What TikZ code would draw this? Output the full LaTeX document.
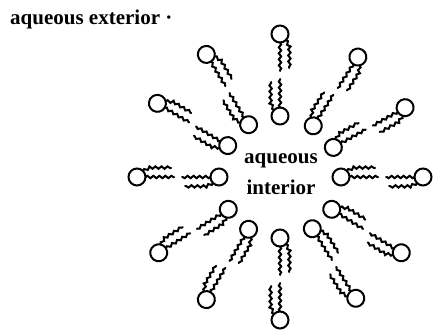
\documentclass[tikz,border=0pt]{standalone}
\usepackage{fontspec}
\setmainfont{Liberation Serif}
\usetikzlibrary{decorations.pathmorphing}

\tikzset{
  % one lipid: polar head at the origin, two tails running along +x
  lipid/.pic={
    \draw[headline] (0,0) circle (8.5);
    \draw[tail] (8.5,0) -- (37,0);
    \draw[tail] (6,6) -- (12,9) -- (34,9);
  }
}

\begin{document}
\begin{tikzpicture}[x=1pt, y=1pt,
    headline/.style={line width=2pt},
    tail/.style={line width=2pt, line cap=round, decorate,
                 decoration={snake, amplitude=1.2pt, segment length=6pt}},
    lbl/.style={font=\bfseries\fontsize{21}{23}\selectfont, inner sep=0pt}
]
\useasboundingbox (0,0) rectangle (436,330);

% labels
\node[lbl, anchor=base west] (exterior) at (10,305) {aqueous exterior ·};
\node[lbl, anchor=base] (aqueous) at (281,167) {aqueous};
\node[lbl, anchor=base] (interior) at (281,136) {interior};

% the bilayer: outer leaflet points in, inner leaflet points out
\begin{scope}[shift={(280,153)}]
  \foreach \a in {0,29,57,90,121,149,180,212,239,270,302,328} {
    \pic[rotate=\a+180] at (\a:143) {lipid};
    \pic[rotate=\a] at (\a:61) {lipid};
  }
\end{scope}

\end{tikzpicture}
\end{document}
